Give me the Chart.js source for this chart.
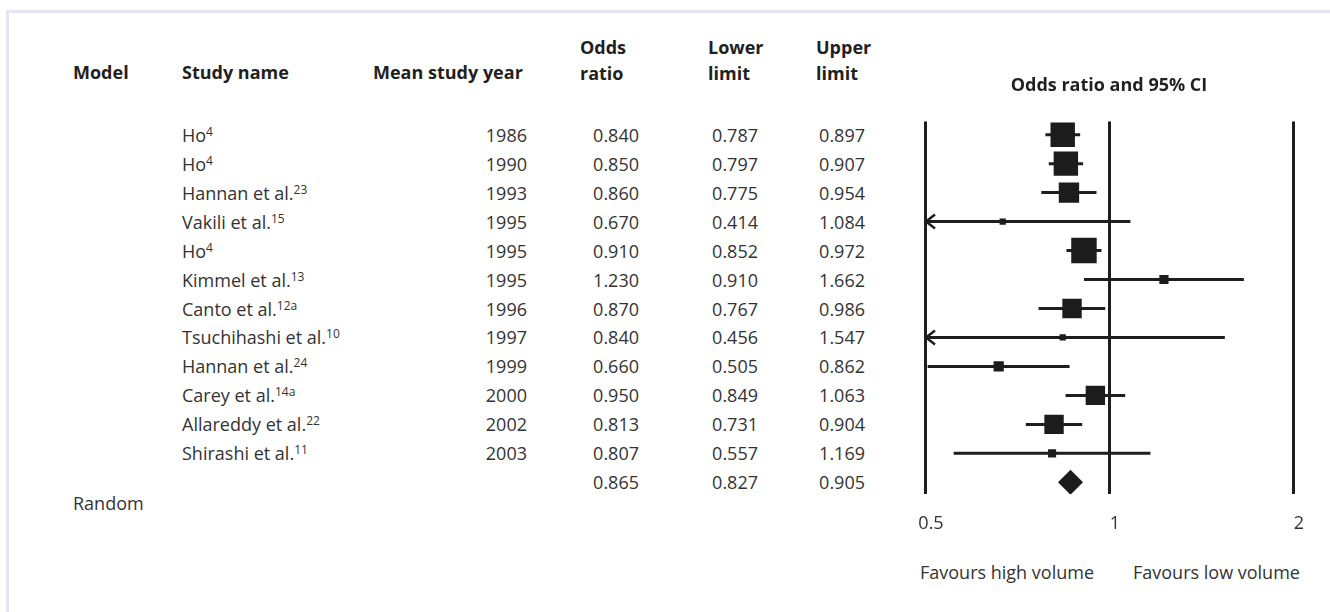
<html>
<head>
	<title>Odds ratio and 95% CI</title>
	<style>
		html, body {
			margin: 0;
			padding: 0;
			width: 1330px;
			height: 612px;
			background: #fff;
			overflow: hidden;
			font-family: "Open Sans", "Noto Sans", sans-serif;
			color: #333;
		}
		#frame {
			position: absolute;
			left: 6px;
			top: 10px;
			right: 0;
			bottom: 0;
			border-top: 3px solid #e4e5f2;
			border-left: 3px solid #e4e5f2;
		}
		.t {
			position: absolute;
			font-size: 18px;
			line-height: 24px;
			white-space: nowrap;
		}
		.h {
			font-weight: bold;
			color: #231f20;
			line-height: 26px;
		}
		.r { text-align: right; width: 100px; }
		.sup {
			font-size: 12px;
			position: relative;
			top: -6px;
		}
		#wrap {
			position: absolute;
			left: 889px;
			top: 50px;
			width: 440px;
			height: 510px;
		}
	</style>
</head>
<body>

	<div id="frame"></div>

	<div class="t h" style="left:73px; top:59px">Model</div>
	<div class="t h" style="left:182px; top:59px">Study name</div>
	<div class="t h" style="left:373px; top:59px">Mean study year</div>
	<div class="t h" style="left:580px; top:34px">Odds<br>ratio</div>
	<div class="t h" style="left:708px; top:34px">Lower<br>limit</div>
	<div class="t h" style="left:816px; top:34px">Upper<br>limit</div>

	<div class="t" style="left:73px; top:491px">Random</div>
	<div class="t" style="left:920px; top:560px">Favours high volume</div>
	<div class="t" style="left:1133px; top:560px">Favours low volume</div>

	<div id="rows"></div>

	<div id="wrap">
		<canvas id="forest"></canvas>
	</div>

	<script src="https://cdn.jsdelivr.net/npm/chart.js@4.4.1/dist/chart.umd.min.js"></script>
	<script>
		var studies = ['Ho', 'Ho', 'Hannan et al.', 'Vakili et al.', 'Ho', 'Kimmel et al.', 'Canto et al.',
			'Tsuchihashi et al.', 'Hannan et al.', 'Carey et al.', 'Allareddy et al.', 'Shirashi et al.'];
		var refs = ['4', '4', '23', '15', '4', '13', '12a', '10', '24', '14a', '22', '11'];
		var years = [1986, 1990, 1993, 1995, 1995, 1995, 1996, 1997, 1999, 2000, 2002, 2003];
		var oddsRatio = [0.840, 0.850, 0.860, 0.670, 0.910, 1.230, 0.870, 0.840, 0.660, 0.950, 0.813, 0.807];
		var lowerLimit = [0.787, 0.797, 0.775, 0.414, 0.852, 0.910, 0.767, 0.456, 0.505, 0.849, 0.731, 0.557];
		var upperLimit = [0.897, 0.907, 0.954, 1.084, 0.972, 1.662, 0.986, 1.547, 0.862, 1.063, 0.904, 1.169];
		// relative weight of each study
		var weights = [92, 92, 64, 6, 100, 13, 58, 6, 16, 58, 58, 10];
		var pooled = [0.865, 0.827, 0.905];   // random effects: OR, lower, upper
		var xTicks = [0.5, 1, 2];

		var ciPoints = [];
		for (var i = 0; i < studies.length; i++) {
			ciPoints.push({x: lowerLimit[i], y: i});
			ciPoints.push({x: upperLimit[i], y: i});
			ciPoints.push({x: upperLimit[i], y: null});
		}
		var orPoints = oddsRatio.map(function (v, i) { return {x: v, y: i}; });
		var nRows = studies.length + 1;

		// little "<" where a CI runs off the left edge
		var arrowPlugin = {
			id: 'arrows',
			afterDatasetsDraw: function (chart) {
				var xs = chart.scales.x, ys = chart.scales.y, ctx = chart.ctx;
				ctx.save();
				ctx.strokeStyle = '#1e1e1e';
				ctx.lineWidth = 2.5;
				for (var i = 0; i < studies.length; i++) {
					if (lowerLimit[i] >= xs.min) continue;
					var px = xs.getPixelForValue(xs.min) + 1, py = ys.getPixelForValue(i);
					ctx.beginPath();
					ctx.moveTo(px + 9, py - 7);
					ctx.lineTo(px, py);
					ctx.lineTo(px + 9, py + 7);
					ctx.stroke();
				}
				ctx.restore();
			}
		};

		var ctx = document.getElementById('forest').getContext('2d');
		var chart = new Chart(ctx, {
			type: 'scatter',
			data: {
				datasets: [
					{
						label: 'Odds ratio',
						data: orPoints,
						pointStyle: 'rect',
						pointRadius: weights.map(function (w) { return 1.8 * Math.sqrt(w); }),
						backgroundColor: '#1c1c1c',
						borderColor: '#1c1c1c',
						borderWidth: 0,
						order: 0
					},
					{
						label: 'Random',
						data: [{x: pooled[0], y: studies.length}],
						pointStyle: 'rectRot',
						pointRadius: 12.5,
						backgroundColor: '#1c1c1c',
						borderWidth: 0,
						order: 0
					},
					{
						label: '95% CI',
						type: 'line',
						data: ciPoints,
						showLine: true,
						spanGaps: false,
						borderColor: '#1e1e1e',
						borderWidth: 3,
						pointRadius: 0,
						order: 1
					}
				]
			},
			options: {
				responsive: true,
				maintainAspectRatio: false,
				animation: false,
				layout: { padding: { left: 36, right: 36, top: 0, bottom: 6 } },
				plugins: {
					legend: { display: false },
					tooltip: { enabled: false },
					title: {
						display: true,
						text: 'Odds ratio and 95% CI',
						color: '#231f20',
						font: { family: '"Open Sans", sans-serif', size: 18, weight: 'bold' },
						padding: { top: 25, bottom: 25 }
					}
				},
				scales: {
					x: {
						type: 'logarithmic',
						min: 0.5,
						max: 2,
						afterBuildTicks: function (scale) {
							scale.ticks = xTicks.map(function (v) { return {value: v}; });
						},
						border: { display: false },
						grid: { color: '#1e1e1e', lineWidth: 3, drawTicks: false },
						ticks: {
							padding: 19,
							labelOffset: 6,
							color: '#333',
							font: { family: '"Open Sans", sans-serif', size: 18 },
							callback: function (v) { return String(v); }
						}
					},
					y: {
						type: 'linear',
						display: false,
						reverse: true,
						min: -0.451,
						max: nRows - 1 + 0.416
					}
				}
			},
			plugins: [arrowPlugin]
		});

		// table rows line up with the chart's own row scale
		var top0 = document.getElementById('wrap').offsetTop;
		var rowsHtml = '';
		var fmt = function (v) { return v.toFixed(3); };
		for (var r = 0; r < nRows; r++) {
			var cy = top0 + chart.scales.y.getPixelForValue(r) - 12;
			if (r < studies.length) {
				rowsHtml += '<div class="t" style="left:182px; top:' + cy + 'px">' + studies[r] +
					'<span class="sup">' + refs[r] + '</span></div>';
				rowsHtml += '<div class="t r" style="left:427px; top:' + cy + 'px">' + years[r] + '</div>';
				rowsHtml += '<div class="t r" style="left:539px; top:' + cy + 'px">' + fmt(oddsRatio[r]) + '</div>';
				rowsHtml += '<div class="t r" style="left:658px; top:' + cy + 'px">' + fmt(lowerLimit[r]) + '</div>';
				rowsHtml += '<div class="t r" style="left:765px; top:' + cy + 'px">' + fmt(upperLimit[r]) + '</div>';
			} else {
				rowsHtml += '<div class="t r" style="left:539px; top:' + cy + 'px">' + fmt(pooled[0]) + '</div>';
				rowsHtml += '<div class="t r" style="left:658px; top:' + cy + 'px">' + fmt(pooled[1]) + '</div>';
				rowsHtml += '<div class="t r" style="left:765px; top:' + cy + 'px">' + fmt(pooled[2]) + '</div>';
			}
		}
		document.getElementById('rows').innerHTML = rowsHtml;
	</script>
</body>
</html>
